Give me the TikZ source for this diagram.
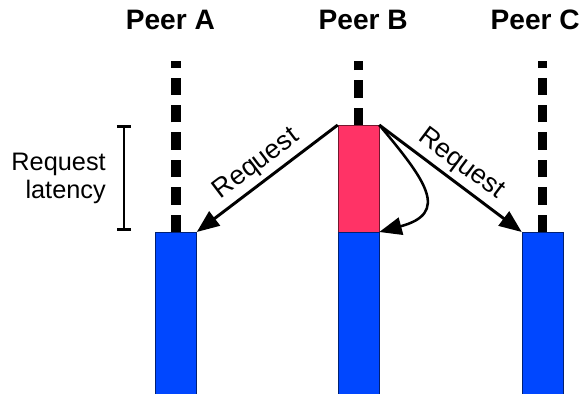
\documentclass[tikz,border=0pt]{standalone}
\usepackage{fontspec}
\setmainfont{Liberation Sans}
\definecolor{SlotBlue}{RGB}{0,71,255}
\definecolor{BusyRed}{RGB}{255,51,102}
\usetikzlibrary{arrows.meta, positioning, calc}

\begin{document}
\begin{tikzpicture}[font=\fontsize{18}{20}\selectfont,
	peer/.style={font=\fontsize{20}{24}\selectfont\bfseries, inner sep=0pt},
	slot/.style={rectangle, draw=SlotBlue!45!black, fill=SlotBlue, inner sep=0pt,
		minimum width=1.025cm, anchor=north},
	busy/.style={slot, draw=BusyRed!45!black, fill=BusyRed},
	life/.style={line width=6.6pt, dash pattern=on 12.3pt off 7.2pt},
	req/.style={-{Triangle[length=16pt, width=12.5pt]}, line width=2.1pt},
	self/.style={-{Triangle[length=16pt, width=12.5pt]}, line width=1.8pt},
	span/.style={{Bar[width=10pt]}-{Bar[width=10pt]}, line width=2pt},
	lbl/.style={inner sep=3pt, font=\fontsize{19}{22}\selectfont}]

	\useasboundingbox (0,0) rectangle (14.5,-9.85);

	\node[peer] (pa) at (4.26,-0.5) {Peer A};
	\node[peer] (pb) at (9.08,-0.5) {Peer B};
	\node[peer] (pc) at (13.38,-0.5) {Peer C};

	\node[slot, minimum height=4.05cm] (ba) at (4.4,-5.8) {};
	\node[busy, minimum height=2.675cm] (rb) at (8.9625,-3.125) {};
	\node[slot, minimum height=4.05cm] (bb) at (8.9625,-5.8) {};
	\node[slot, minimum height=4.05cm] (bc) at (13.5625,-5.8) {};

	\coordinate (ta) at (4.4,-1.525);
	\coordinate (tb) at (8.9625,-1.525);
	\coordinate (tc) at (13.5625,-1.525);
	\draw[life] (ba.north) -- (ta);
	\draw[life] (rb.north) -- (tb);
	\draw[life] (bc.north) -- (tc);

	\draw[req] (rb.north west) -- node[lbl, sloped, above] {Request} (ba.north east);
	\draw[req] (rb.north east) -- node[lbl, sloped, above] {Request} (bc.north west);
	\draw[self] (rb.north east) to[out=-50, in=15, looseness=1.75] (bb.north east);

	% latency bracket
	\coordinate (lt) at (3.1,-3.125);
	\coordinate (lb) at (3.1,-5.775);
	\draw[span] (lt) -- (lb);
	\node[align=right, anchor=east, inner sep=0pt] (lat) at (2.65,-4.45) {Request\\latency};
\end{tikzpicture}
\end{document}
